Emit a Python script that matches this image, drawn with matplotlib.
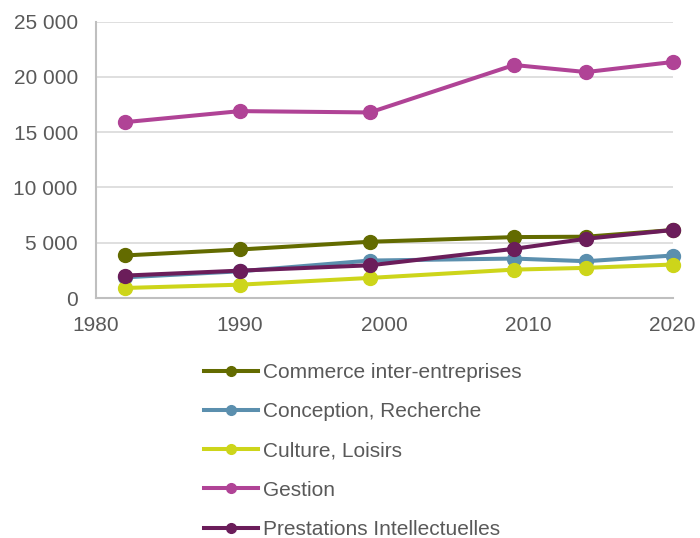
import numpy as np
import matplotlib.pyplot as plt
from matplotlib.ticker import FuncFormatter

plt.rcParams['font.family'] = ['Liberation Sans', 'DejaVu Sans']

years = [1982, 1990, 1999, 2009, 2014, 2020]
commerce = [3850, 4390, 5090, 5510, 5545, 6150]
conception = [1870, 2420, 3390, 3570, 3330, 3845]
culture = [910, 1210, 1820, 2570, 2730, 3030]
gestion = [15900, 16900, 16780, 21070, 20430, 21340]
prestations = [2030, 2480, 2960, 4450, 5360, 6150]

series = [
    ("Commerce inter-entreprises", commerce, "#636B00"),
    ("Conception, Recherche", conception, "#5B8FAE"),
    ("Culture, Loisirs", culture, "#CDD51A"),
    ("Gestion", gestion, "#B04396"),
    ("Prestations Intellectuelles", prestations, "#6B1D5A"),
]

text_col = "#595959"

fig = plt.figure(figsize=(7, 5.38), dpi=100)
ax = fig.add_axes([0.137, 0.446, 0.824, 0.514])

for label, vals, col in series:
    ax.plot(years, vals, color=col, lw=2.9, marker='o', markersize=10,
            label=label, clip_on=False, zorder=3)

ax.set_xlim(1980, 2020)
ax.set_ylim(0, 25000)
ax.set_xticks(range(1980, 2021, 10))
ax.set_yticks(range(0, 25001, 5000))
ax.yaxis.set_major_formatter(FuncFormatter(lambda v, p: f"{int(v):,}".replace(",", " ")))
ax.tick_params(length=0, labelsize=15, colors=text_col, pad=13)
ax.grid(axis='y', color='#D9D9D9', lw=1.2)
ax.set_axisbelow(True)
for s in ['top', 'right']:
    ax.spines[s].set_visible(False)
for s in ['left', 'bottom']:
    ax.spines[s].set_color('#BFBFBF')
    ax.spines[s].set_linewidth(1.5)

# legend below the plot, one entry per row
handles, labels = ax.get_legend_handles_labels()
leg = fig.legend(handles, labels, loc='upper left', bbox_to_anchor=(0.292, 0.325),
                 frameon=False, fontsize=15, handlelength=2.55, handletextpad=0.24,
                 labelspacing=0.97, borderpad=0, borderaxespad=0, markerscale=0.7)
for t in leg.get_texts():
    t.set_color(text_col)

fig.savefig("out.png", dpi=100)
